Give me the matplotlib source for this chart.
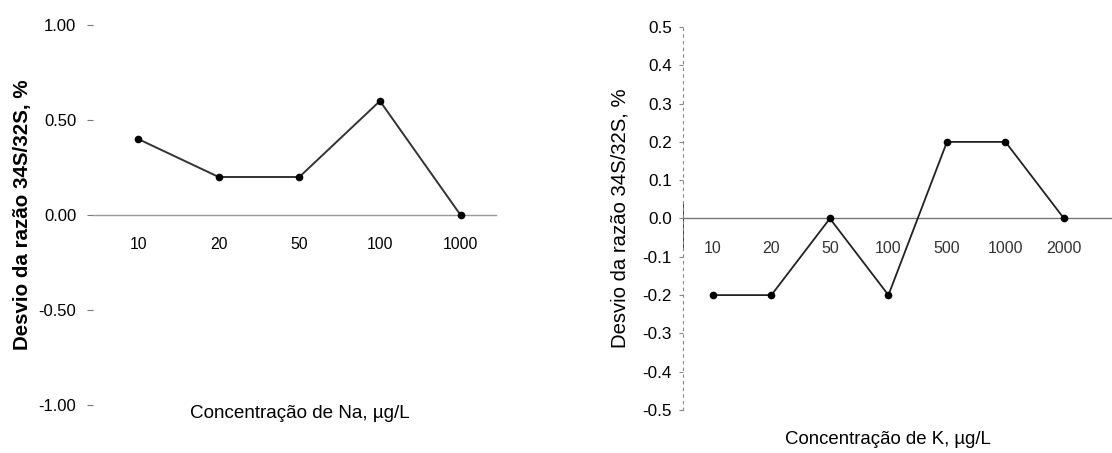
import matplotlib
matplotlib.use("Agg")
import matplotlib.pyplot as plt

plt.rcParams['font.family'] = ['Liberation Sans', 'DejaVu Sans']

na_labels = ["10", "20", "50", "100", "1000"]
na_values = [0.4, 0.2, 0.2, 0.6, 0.0]

k_labels = ["10", "20", "50", "100", "500", "1000", "2000"]
k_values = [-0.2, -0.2, 0.0, -0.2, 0.2, 0.2, 0.0]

ylabel = "Desvio da razão 34S/32S, %"

fig = plt.figure(figsize=(11.12, 4.53), dpi=100)

# Left panel (Na)
ax1 = fig.add_axes([93/1112, 1-405/453, (496-93)/1112, 380/453])
x1 = list(range(len(na_values)))
ax1.plot(x1, na_values, color='#333333', lw=1.4, marker='o', ms=4.5,
         mfc='black', mec='black', zorder=3)
ax1.set_xlim(-0.56, 4.44)
ax1.set_ylim(-1, 1)
ax1.set_yticks([-1, -0.5, 0, 0.5, 1])
ax1.set_yticklabels(["-1.00", "-0.50", "0.00", "0.50", "1.00"])
ax1.set_xticks(x1)
ax1.set_xticklabels(na_labels)
for s in ['top', 'right', 'left']:
    ax1.spines[s].set_visible(False)
ax1.spines['bottom'].set_position(('data', 0))
ax1.spines['bottom'].set_color('#999999')
ax1.spines['bottom'].set_linewidth(1.0)
ax1.tick_params(axis='x', length=0, pad=16, labelsize=11.3)
ax1.tick_params(axis='y', length=4, width=0.8, color='#777777', pad=8, labelsize=12, direction='out')
ax1.set_ylabel(ylabel, fontsize=14.8, fontweight='bold')
ax1.yaxis.set_label_coords(-0.151, 0.5)
ax1.patch.set_alpha(0)
fig.text(300/1112, 1-413/453, "Concentração de Na, µg/L", ha='center', va='center', fontsize=13.6)

# Right panel (K)
ax2 = fig.add_axes([683/1112, 1-410/453, (1112-683)/1112, 383/453])
x2 = list(range(len(k_values)))
ax2.plot(x2, k_values, color='#222222', lw=1.3, marker='o', ms=4.5,
         mfc='black', mec='black', zorder=3)
ax2.set_xlim(-0.51, 6.82)
ax2.set_ylim(-0.5, 0.5)
ax2.set_yticks([-0.5, -0.4, -0.3, -0.2, -0.1, 0.0, 0.1, 0.2, 0.3, 0.4, 0.5])
ax2.set_yticklabels(["-0.5", "-0.4", "-0.3", "-0.2", "-0.1", "0.0", "0.1", "0.2", "0.3", "0.4", "0.5"])
ax2.set_xticks(x2)
ax2.set_xticklabels(k_labels)
for s in ['top', 'right']:
    ax2.spines[s].set_visible(False)
ax2.spines['left'].set_linestyle((0, (2, 4)))
ax2.spines['left'].set_color('#888888')
ax2.spines['left'].set_linewidth(0.8)
ax2.spines['bottom'].set_position(('data', 0))
ax2.spines['bottom'].set_color('#777777')
ax2.spines['bottom'].set_linewidth(1.0)
ax2.axvline(-0.51, ymin=0.42, ymax=0.54, color='#222222', lw=1.2)
ax2.tick_params(axis='x', length=0, pad=16, labelsize=11.5, labelcolor='#333333')
ax2.tick_params(axis='y', length=3, width=0.8, color='#888888', pad=5, labelsize=12.3, direction='out')
ax2.set_ylabel(ylabel, fontsize=14.6)
ax2.yaxis.set_label_coords(-0.124, 0.5)
ax2.patch.set_alpha(0)
fig.text(888/1112, 1-440/453, "Concentração de K, µg/L", ha='center', va='center', fontsize=13.4)

fig.savefig("out.png", dpi=100)
